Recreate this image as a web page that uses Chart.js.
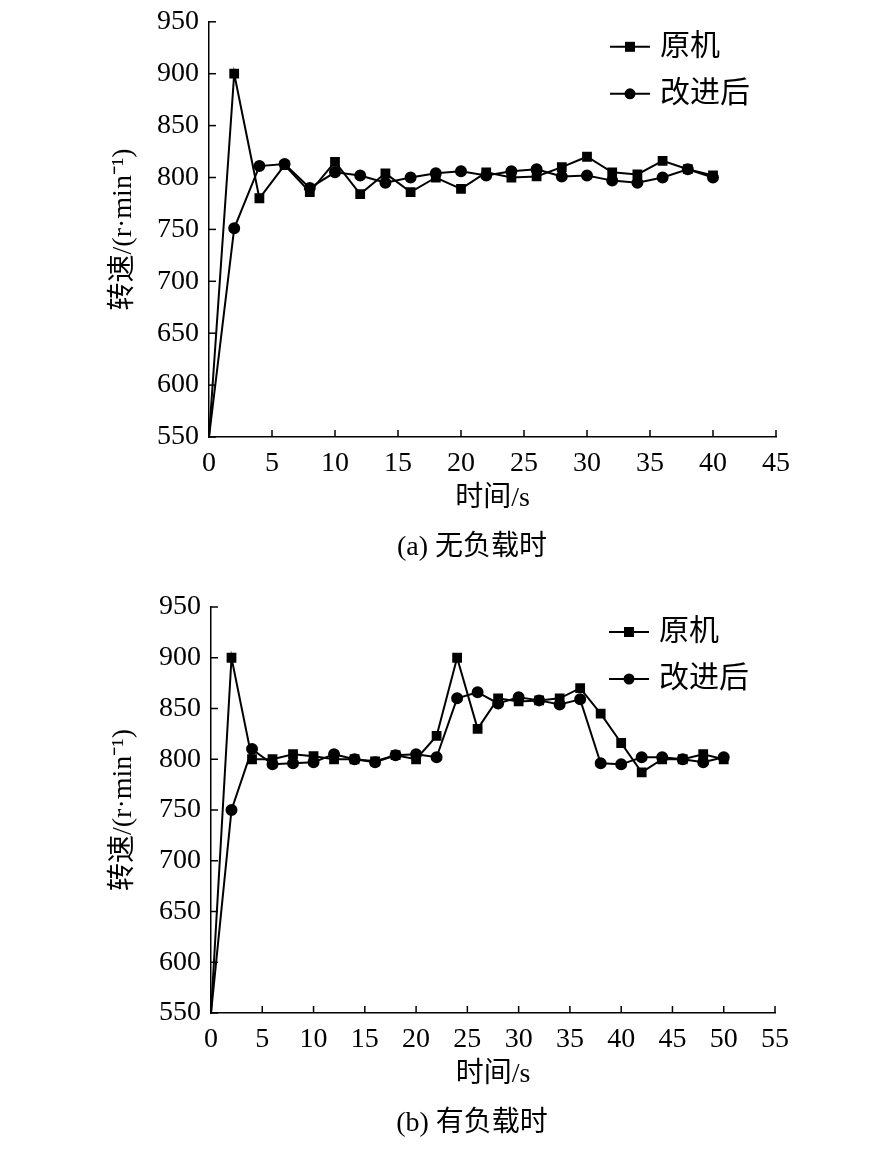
<!DOCTYPE html>
<html><head><meta charset="utf-8">
<script src="https://cdn.jsdelivr.net/npm/chart.js@4"></script>
<style>body{margin:0;background:#fff}canvas{display:block}</style>
</head><body>
<div style="width:886px;height:580px;margin-top:-5px"><canvas id="a"></canvas></div>
<div style="width:886px;height:576px"><canvas id="b"></canvas></div>
<script>
const timeA = [0,2,4,6,8,10,12,14,16,18,20,22,24,26,28,30,32,34,36,38,40];
const origA = [550,900,780,812,786,815,784,804,786,800,789,805,800,801,810,820,805,803,816,808,802];
const imprA = [550,751,811,813,790,805,802,795,800,804,806,802,806,808,801,802,797,795,800,808,800];
const timeB = [0,2,4,6,8,10,12,14,16,18,20,22,24,26,28,30,32,34,36,38,40,42,44,46,48,50];
const origB = [550,900,800,800,805,803,800,800,798,804,800,823,900,830,860,857,858,860,870,845,816,787,800,800,805,800];
const imprB = [550,750,810,795,796,797,805,800,797,804,805,802,860,866,855,861,858,854,859,796,795,802,802,800,797,802];
const names = ['原机','改进后'];
const FONT = "'Liberation Serif','Noto Sans CJK SC',serif";

function make(id, time, o, i, xmax, pad, caption) {
  const pts = (t, v) => t.map((x, k) => ({x, y: v[k]}));
  const deco = {
    id: 'deco',
    afterDraw(c) {
      const ctx = c.ctx, xs = c.scales.x, ys = c.scales.y;
      ctx.save();
      ctx.strokeStyle = '#000'; ctx.lineWidth = 1.5;
      for (let v = 550; v <= 950; v += 50) { const p = ys.getPixelForValue(v); ctx.beginPath(); ctx.moveTo(xs.left, p); ctx.lineTo(xs.left + 7, p); ctx.stroke(); }
      for (let v = 0; v <= xmax; v += 5) { const p = xs.getPixelForValue(v); ctx.beginPath(); ctx.moveTo(p, ys.bottom); ctx.lineTo(p, ys.bottom - 7); ctx.stroke(); }
      ctx.fillStyle = '#000'; ctx.lineWidth = 2;
      ctx.font = "30px " + FONT; ctx.textBaseline = 'middle';
      const lx = xs.right - 166, ly = ys.top + 25;
      [0, 1].forEach(k => {
        const y = ly + k * 47;
        ctx.beginPath(); ctx.moveTo(lx, y); ctx.lineTo(lx + 40, y); ctx.stroke();
        if (k === 0) ctx.fillRect(lx + 15, y - 5, 10, 10);
        else { ctx.beginPath(); ctx.arc(lx + 20, y, 5.5, 0, Math.PI * 2); ctx.fill(); }
        ctx.fillText(names[k], lx + 50, y);
      });
      ctx.font = "28px " + FONT; ctx.textAlign = 'center';
      ctx.fillText(caption, 472, c.height - 27);
      ctx.restore();
    }
  };
  const rad = r => (ctx) => ctx.dataIndex === 0 ? 0 : r;
  new Chart(document.getElementById(id), {
    type: 'line',
    data: { datasets: [
      { label: names[0], data: pts(time, o), borderColor: '#000', backgroundColor: '#000', borderWidth: 2, pointStyle: 'rect', pointRadius: rad(5.5), tension: 0 },
      { label: names[1], data: pts(time, i), borderColor: '#000', backgroundColor: '#000', borderWidth: 2, pointStyle: 'circle', pointRadius: rad(5), tension: 0 }
    ]},
    options: {
      responsive: true, maintainAspectRatio: false, animation: false,
      layout: { padding: pad },
      plugins: { legend: { display: false }, tooltip: { enabled: false } },
      scales: {
        x: { type: 'linear', min: 0, max: xmax,
          ticks: { stepSize: 5, color: '#000', font: { family: FONT, size: 28 }, padding: 10, maxRotation: 0 },
          grid: { display: false, drawTicks: false }, border: { color: '#000', width: 1.5 },
          title: { display: true, text: '时间/s', color: '#000', font: { family: FONT, size: 28 }, padding: { top: 0, bottom: 60 } },
          afterFit(s) { s.height = 138; } },
        y: { min: 550, max: 950,
          ticks: { stepSize: 50, color: '#000', font: { family: FONT, size: 28 }, padding: 10 },
          grid: { display: false, drawTicks: false }, border: { color: '#000', width: 1.5 },
          title: { display: true, text: '转速/(r·min⁻¹)', color: '#000', font: { family: FONT, size: 28 }, padding: { top: 107, bottom: 0 } },
          afterFit(s) { s.width = pad.ywidth; } }
      }
    },
    plugins: [deco]
  });
}
make('a', timeA, origA, imprA, 45, { top: 26, right: 110, left: 0, bottom: 0, ywidth: 209 }, '(a) 无负载时');
make('b', timeB, origB, imprB, 55, { top: 32, right: 111, left: 0, bottom: 0, ywidth: 211 }, '(b) 有负载时');
</script>
</body></html>
